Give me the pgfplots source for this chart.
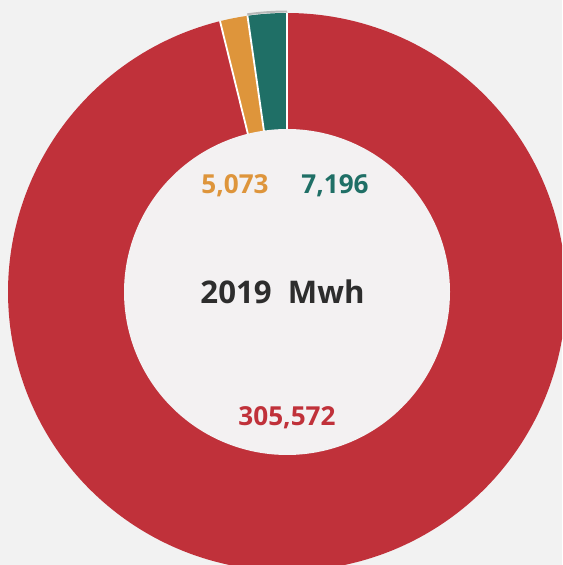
\documentclass[border=0pt]{standalone}
\usepackage{pgfplots}
\usepackage{pgfplotstable}
\pgfplotsset{compat=1.18}
\usepackage{fontspec}
\setmainfont{Open Sans}

\definecolor{cRed}{HTML}{C0313A}
\definecolor{cOrange}{HTML}{DE953B}
\definecolor{cTeal}{HTML}{1F6F66}
\definecolor{cText}{HTML}{2D2D2D}
\definecolor{bgOut}{HTML}{F2F2F2}
\definecolor{bgIn}{HTML}{F3F1F2}

% energy 2019, MWh (drawn counter-clockwise from the top)
\pgfplotstableread{
name   value
teal   7196
orange 5073
red    305572
}\mwh

\begin{document}
\begin{tikzpicture}
\pgfplotstablegetelem{0}{value}\of\mwh \let\vA\pgfplotsretval
\pgfplotstablegetelem{1}{value}\of\mwh \let\vB\pgfplotsretval
\pgfplotstablegetelem{2}{value}\of\mwh \let\vC\pgfplotsretval
% slice boundaries in degrees (l3fp, values are too big for pgfmath)
\edef\aA{90}
\edef\aB{\fpeval{round(90+360*\vA/(\vA+\vB+\vC),4)}}
\edef\aC{\fpeval{round(90+360*(\vA+\vB)/(\vA+\vB+\vC),4)}}
\edef\aD{450}
\def\Rout{279}
\def\Rin{163}
\begin{axis}[
  scale only axis,
  width=14.05cm, height=14.125cm,
  xmin=-287, xmax=275, ymin=-273, ymax=292,
  hide axis,
  clip=true,
]
  \fill[bgOut] (rel axis cs:0,0) rectangle (rel axis cs:1,1);
  % slices
  \addplot[fill=cTeal, draw=none, domain=\aA:\aB, samples=30]
    ({\Rout*cos(x)},{\Rout*sin(x)}) -- (axis cs:0,0) -- cycle;
  \addplot[fill=cOrange, draw=none, domain=\aB:\aC, samples=30]
    ({\Rout*cos(x)},{\Rout*sin(x)}) -- (axis cs:0,0) -- cycle;
  \addplot[fill=cRed, draw=none, domain=\aC:\aD, samples=300]
    ({\Rout*cos(x)},{\Rout*sin(x)}) -- (axis cs:0,0) -- cycle;
  % hover shade on teal slice
  \addplot[draw=gray!55, line width=1.4pt, domain=\aA:\aB, samples=20]
    ({(\Rout+1.5)*cos(x)},{(\Rout+1.5)*sin(x)});
  % separators
  \draw[white, line width=1.3pt] (axis cs:0,0) -- (axis cs:{\Rout*cos(\aA)},{\Rout*sin(\aA)});
  \draw[white, line width=1.3pt] (axis cs:0,0) -- (axis cs:{\Rout*cos(\aB)},{\Rout*sin(\aB)});
  \draw[white, line width=1.3pt] (axis cs:0,0) -- (axis cs:{\Rout*cos(\aC)},{\Rout*sin(\aC)});
  % hole
  \addplot[fill=bgIn, draw=none, domain=0:360, samples=200]
    ({\Rin*cos(x)},{\Rin*sin(x)}) -- cycle;
  % labels
  \node[text=cOrange, font=\bfseries\fontsize{18.6}{21}\selectfont] at (axis cs:-52,106) {5,073};
  \node[text=cTeal, font=\bfseries\fontsize{18.6}{21}\selectfont] at (axis cs:48,106) {7,196};
  \node[text=cText, font=\bfseries\fontsize{22.2}{25}\selectfont] at (axis cs:-4.5,0) {2019\ \ Mwh};
  \node[text=cRed, font=\bfseries\fontsize{18.6}{21}\selectfont] at (axis cs:0,-126) {305,572};
\end{axis}
\end{tikzpicture}
\end{document}
